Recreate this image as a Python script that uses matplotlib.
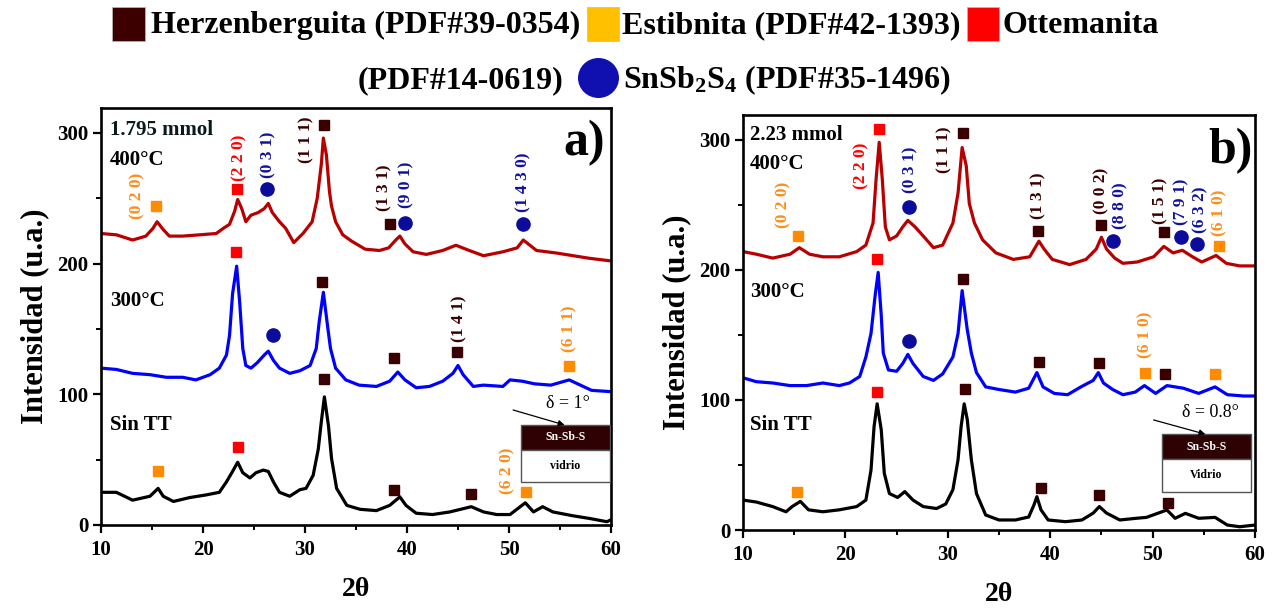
import matplotlib
matplotlib.use("Agg")
import matplotlib.pyplot as plt
from matplotlib.patches import Rectangle, Ellipse
from matplotlib.ticker import MultipleLocator

plt.rcParams['font.family'] = ['Liberation Serif', 'DejaVu Serif']
plt.rcParams['font.weight'] = 'bold'
plt.rcParams['mathtext.fontset'] = 'custom'
plt.rcParams['mathtext.rm'] = 'Liberation Serif:bold'
plt.rcParams['mathtext.bf'] = 'Liberation Serif:bold'
plt.rcParams['mathtext.it'] = 'Liberation Serif:bold'
plt.rcParams['mathtext.default'] = 'rm'

# ---------------- diffractograms, panel a (1.795 mmol) ----------------
a400_tt = [10.0, 11.5, 13.1, 14.4, 15.1, 15.5, 16.1, 16.7, 18.0, 19.7, 21.3, 22.0, 22.6, 23.1, 23.4,
           23.8, 24.2, 24.7, 25.4, 26.0, 26.4, 26.8, 27.5, 28.1, 28.9, 29.8, 30.7, 31.2, 31.6, 31.8,
           32.1, 32.4, 32.6, 33.0, 33.7, 34.6, 35.9, 37.3, 38.2, 38.9, 39.3, 39.8, 40.6, 41.9, 43.5,
           44.8, 46.1, 47.5, 49.4, 50.8, 51.4, 52.7, 54.7, 56.3, 57.9, 60.0]
a400_int = [223, 222, 218, 221, 227, 232, 226, 221, 221, 222, 223, 227, 230, 240, 249,
            242, 232, 237, 239, 242, 246, 239, 232, 227, 216, 223, 232, 250, 276, 296,
            283, 255, 244, 232, 222, 217, 211, 210, 212, 218, 221, 215, 209, 207, 210,
            214, 210, 206, 209, 212, 218, 210, 208, 206, 204, 202]

a300_tt = [10.0, 11.5, 13.1, 14.8, 16.4, 18.0, 19.3, 20.7, 21.6, 22.3, 22.6, 22.9, 23.3, 23.6, 23.9,
           24.2, 24.7, 25.3, 26.0, 26.4, 26.9, 27.5, 28.5, 29.5, 30.5, 31.1, 31.4, 31.8, 32.2, 32.5,
           33.0, 34.0, 35.3, 37.0, 38.3, 39.1, 39.8, 40.9, 42.2, 43.5, 44.5, 45.0, 45.5, 46.5, 47.5,
           49.4, 50.1, 51.3, 52.5, 54.1, 55.9, 58.1, 60.0]
a300_int = [120, 119, 116, 115, 113, 113, 111, 115, 120, 130, 145, 177, 198, 170, 135,
            122, 120, 124, 130, 133, 126, 120, 116, 118, 122, 135, 156, 178, 153, 135,
            120, 111, 107, 106, 110, 117, 111, 105, 106, 110, 116, 122, 115, 106, 107,
            106, 111, 110, 108, 107, 111, 103, 102]

a0_tt = [10.0, 11.5, 13.1, 14.8, 15.6, 16.1, 17.1, 18.7, 20.3, 21.6, 22.3, 22.9, 23.4, 23.9, 24.6,
         25.2, 25.9, 26.4, 26.9, 27.5, 28.5, 29.5, 30.1, 30.8, 31.3, 31.6, 31.9, 32.3, 32.6, 33.1,
         34.1, 35.4, 37.0, 38.3, 39.3, 39.9, 40.9, 42.5, 44.2, 46.3, 47.5, 48.8, 50.1, 51.6, 52.4,
         53.3, 54.3, 56.3, 57.9, 59.6, 60.0]
a0_int = [25, 25, 19, 22, 28, 22, 18, 21, 23, 25, 33, 41, 48, 40, 36,
          40, 42, 41, 33, 25, 22, 27, 28, 38, 58, 79, 98, 76, 51, 28,
          15, 12, 11, 15, 21.5, 15, 9, 8, 10, 14, 10, 8, 8, 17, 10,
          14, 10, 7, 5, 2.5, 4]

# ---------------- diffractograms, panel b (2.23 mmol) ----------------
b400_tt = [10.0, 11.3, 12.9, 14.6, 15.5, 16.5, 17.8, 19.4, 21.1, 22.0, 22.7, 23.0, 23.3, 23.6, 23.9,
           24.3, 25.0, 25.6, 26.1, 26.8, 27.6, 28.6, 29.5, 30.5, 31.0, 31.4, 31.8, 32.1, 32.6, 33.4,
           34.7, 36.4, 38.0, 38.6, 38.9, 39.4, 40.2, 41.9, 43.5, 44.5, 45.0, 45.5, 46.3, 47.1, 48.5,
           50.1, 51.1, 52.0, 52.9, 53.9, 54.8, 56.2, 57.2, 58.5, 60.0]
b400_int = [214, 212, 209, 212, 217, 212, 210, 210, 214, 219, 236, 270, 298, 270, 233,
            223, 226, 233, 238, 233, 226, 217, 219, 236, 259, 294, 280, 251, 236, 223,
            213, 208, 210, 218, 222, 216, 208, 204, 208, 216, 225, 216, 209, 205, 206,
            210, 218, 213, 215, 210, 206, 211, 205, 203, 203]

b300_tt = [10.0, 11.3, 12.9, 14.6, 16.2, 17.8, 19.4, 20.4, 21.4, 22.0, 22.5, 22.9, 23.2, 23.5, 23.7,
           24.2, 25.0, 25.6, 26.1, 26.6, 27.6, 28.6, 29.5, 30.5, 31.0, 31.4, 31.9, 32.3, 32.8, 33.7,
           35.0, 36.6, 37.9, 38.7, 39.3, 40.4, 41.7, 43.0, 44.2, 44.7, 45.2, 46.1, 47.1, 48.3, 49.2,
           50.3, 51.4, 53.0, 54.5, 56.1, 57.3, 58.9, 60.0]
b300_int = [117, 114, 113, 111, 111, 113, 111, 113, 118, 133, 151, 180, 198, 165, 136,
            123, 122, 128, 135, 128, 118, 115, 120, 133, 151, 184, 154, 136, 121, 110,
            108, 106, 109, 121, 110, 105, 104, 110, 115, 121, 113, 108, 104, 106, 111,
            105, 111, 109, 105, 110, 104, 103, 103]

b0_tt = [10.0, 11.3, 12.9, 14.2, 14.8, 15.6, 16.4, 17.8, 19.4, 21.1, 22.0, 22.5, 22.8, 23.1, 23.5,
         23.8, 24.3, 25.1, 25.8, 26.6, 27.6, 28.9, 29.8, 30.5, 31.0, 31.3, 31.6, 31.9, 32.3, 32.8,
         33.7, 35.0, 36.6, 37.9, 38.4, 38.7, 39.1, 39.8, 41.5, 43.1, 44.2, 44.8, 45.5, 46.8, 48.4,
         49.4, 51.4, 52.2, 53.2, 54.5, 56.1, 57.3, 58.5, 60.0]
b0_int = [23, 21.5, 18, 14, 18, 22, 15.5, 14, 15.5, 18, 23, 46, 79.5, 97, 77,
          43.5, 28, 25, 29.5, 23, 18, 16.5, 20, 31, 54, 79.5, 97, 85, 54, 28,
          11.5, 7.7, 7.7, 10, 19, 25.6, 15.5, 7.7, 6.4, 7.7, 13, 18, 13, 7.7, 9,
          9.7, 15.4, 9, 12.8, 9, 9.7, 3.8, 2.5, 3.8]

# ---------------- phase markers: (phase, 2theta, intensity) ----------------
# H = Herzenberguita, E = Estibnita, O = Ottemanita, S = SnSb2S4
a_marks = [('E', 15.4, 244), ('O', 23.3, 257), ('S', 26.3, 257), ('H', 31.9, 306),
           ('H', 38.3, 230), ('S', 39.8, 231), ('S', 51.4, 230),
           ('O', 23.2, 209), ('H', 31.7, 186), ('S', 26.9, 145), ('H', 38.7, 128),
           ('H', 44.9, 132), ('E', 55.9, 122),
           ('E', 15.6, 41), ('O', 23.4, 60), ('H', 31.9, 112), ('H', 38.7, 27),
           ('H', 46.3, 24), ('E', 51.7, 25)]
b_marks = [('E', 15.4, 226), ('O', 23.3, 308), ('S', 26.2, 248), ('H', 31.5, 305),
           ('H', 38.8, 230), ('H', 45.0, 234.5), ('S', 46.1, 222), ('H', 51.1, 229),
           ('S', 52.8, 225), ('S', 54.3, 220), ('E', 56.5, 218),
           ('O', 23.1, 208), ('H', 31.5, 193), ('S', 26.2, 145), ('H', 38.9, 129),
           ('H', 44.8, 128), ('E', 49.3, 121), ('H', 51.2, 120), ('E', 56.1, 120),
           ('E', 15.3, 29.5), ('O', 23.1, 106), ('H', 31.7, 108), ('H', 39.1, 32),
           ('H', 44.8, 27), ('H', 51.5, 21)]

# Miller indices: (text, phase, 2theta, intensity)
a_hkl = [('(0 2 0)', 'E', 13.6, 252), ('(2 2 0)', 'O', 23.55, 281), ('(0 3 1)', 'S', 26.4, 283),
         ('(1 1 1)', 'H', 30.1, 295), ('(1 3 1)', 'H', 37.8, 258), ('(9 0 1)', 'S', 39.9, 260),
         ('(1 4 3 0)', 'S', 51.4, 262), ('(1 4 1)', 'H', 45.1, 158), ('(6 1 1)', 'E', 55.9, 150),
         ('(6 2 0)', 'E', 49.8, 41.5)]
b_hkl = [('(0 2 0)', 'E', 13.9, 250), ('(2 2 0)', 'O', 21.55, 280), ('(0 3 1)', 'S', 26.3, 277),
         ('(1 1 1)', 'H', 29.7, 292.5), ('(1 3 1)', 'H', 38.8, 257), ('(0 0 2)', 'H', 45.0, 260.5),
         ('(8 8 0)', 'S', 46.9, 249), ('(1 5 1)', 'H', 50.8, 253), ('(7 9 1)', 'S', 52.8, 252),
         ('(6 3 2)', 'S', 54.7, 246), ('(6 1 0)', 'E', 56.5, 243.6), ('(6 1 0)', 'E', 49.3, 150)]

phase_names = ['Herzenberguita (PDF#39-0354)', 'Estibnita (PDF#42-1393)',
               'Ottemanita', '(PDF#14-0619)', r'SnSb$_2$S$_4$ (PDF#35-1496)']

MARK_COLOR = {'H': '#3a0000', 'E': '#ff8c00', 'O': '#ff0000', 'S': '#0c0c9c'}
TEXT_COLOR = {'H': '#3a0000', 'E': '#ff8c1a', 'O': '#ff0000', 'S': '#12129a'}
MARK_SHAPE = {'H': ('s', 6.5), 'E': ('s', 6.5), 'O': ('s', 6.5), 'S': ('o', 9.5)}

W, H = 1277, 609
fig = plt.figure(figsize=(W / 100, H / 100), dpi=100)
axA = fig.add_axes([101 / W, 1 - 525 / H, 510 / W, 417 / H])
axB = fig.add_axes([743 / W, 1 - 530 / H, 512 / W, 415 / H])


def style_axes(ax):
    ax.set_xlim(10, 60)
    ax.set_ylim(0, 319)
    ax.xaxis.set_major_locator(MultipleLocator(10))
    ax.xaxis.set_minor_locator(MultipleLocator(5))
    ax.yaxis.set_major_locator(MultipleLocator(100))
    ax.yaxis.set_minor_locator(MultipleLocator(50))
    for s in ax.spines.values():
        s.set_linewidth(1.9)
    ax.tick_params(which='major', direction='out', length=6, width=1.6,
                   labelsize=15, top=False, right=False)
    ax.tick_params(which='minor', direction='out', length=3.5, width=1.4,
                   top=False, right=False)
    ax.tick_params(axis='x', which='major', pad=5)
    ax.tick_params(axis='y', which='major', pad=3)
    for lab in ax.get_xticklabels() + ax.get_yticklabels():
        lab.set_fontweight('bold')
    ax.set_xlabel('2θ', fontsize=20, fontweight='bold', labelpad=12)
    ax.set_ylabel('Intensidad (u.a.)', fontsize=22, fontweight='bold', labelpad=6)


def draw_panel(ax, curves, marks, hkl):
    for tt, inten, col in curves:
        ax.plot(tt, inten, color=col, lw=2.3, solid_joinstyle='round', zorder=2)
    for ph, x, y in marks:
        m, ms = MARK_SHAPE[ph]
        ax.plot([x], [y], ls='none', marker=m, ms=ms, color=MARK_COLOR[ph],
                mec=MARK_COLOR[ph], zorder=4)
    for txt, ph, x, y in hkl:
        ax.text(x, y, txt, rotation=90, ha='center', va='center', fontsize=12.5,
                fontweight='bold', color=TEXT_COLOR[ph], zorder=5)


def draw_film(ax, x0, x1, y_top, y_mid, y_bot, film_txt, sub_txt,
              delta_txt, delta_xy, arrow_from):
    ax.add_patch(Rectangle((x0, y_mid), x1 - x0, y_top - y_mid, fc='#2e0202',
                           ec='#555555', lw=1.0, zorder=3))
    ax.add_patch(Rectangle((x0, y_bot), x1 - x0, y_mid - y_bot, fc='white',
                           ec='#555555', lw=1.0, zorder=3))
    xc = 0.5 * (x0 + x1)
    ax.text(xc, 0.5 * (y_top + y_mid), film_txt, color='white', fontsize=8.5,
            fontweight='bold', ha='center', va='center', zorder=4)
    ax.text(xc, 0.5 * (y_mid + y_bot), sub_txt, color='black', fontsize=8.5,
            fontweight='bold', ha='center', va='center', zorder=4)
    ax.text(delta_xy[0], delta_xy[1], delta_txt, fontsize=13, fontweight='normal',
            ha='center', va='center', zorder=4)
    ax.annotate('', xy=(xc - 0.1, y_top), xytext=arrow_from,
                arrowprops=dict(arrowstyle='-|>', lw=0.9, color='black',
                                mutation_scale=9, shrinkA=0, shrinkB=0), zorder=4)


for ax in (axA, axB):
    style_axes(ax)

draw_panel(axA, [(a400_tt, a400_int, '#b80000'), (a300_tt, a300_int, '#0000ff'),
                 (a0_tt, a0_int, '#000000')], a_marks, a_hkl)
draw_panel(axB, [(b400_tt, b400_int, '#b80000'), (b300_tt, b300_int, '#0000ff'),
                 (b0_tt, b0_int, '#000000')], b_marks, b_hkl)

tkw = dict(fontsize=15, fontweight='bold', ha='left', va='center', zorder=5)
axA.text(10.9, 302, '1.795 mmol', color='#0a1a1a', **tkw)
axA.text(10.9, 279, '400°C', **tkw)
axA.text(10.9, 171, '300°C', **tkw)
axA.text(10.9, 76.5, 'Sin TT', **tkw)
axA.text(57.4, 283, 'a)', fontsize=36, fontweight='bold', ha='center', va='baseline')

axB.text(10.65, 304, '2.23 mmol', **tkw)
axB.text(10.65, 281, '400°C', **tkw)
axB.text(10.65, 183, '300°C', **tkw)
axB.text(10.65, 81, 'Sin TT', **tkw)
axB.text(57.6, 282, 'b)', fontsize=36, fontweight='bold', ha='center', va='baseline')

draw_film(axA, 51.2, 59.9, 76.5, 57.4, 33.1, 'Sn-Sb-S', 'vidrio',
          'δ = 1°', (55.8, 93), (50.4, 88))
draw_film(axB, 50.95, 59.58, 73.6, 54.4, 29.5, 'Sn-Sb-S', 'Vidrio',
          'δ = 0.8°', (55.6, 90), (50.1, 84.6))

# ---------------- legend across the top ----------------
def fx(px):
    return px / W


def fy(py):
    return 1 - py / H


def square(px0, px1, py0, py1, col):
    fig.patches.append(Rectangle((fx(px0), fy(py1)), fx(px1 - px0), (py1 - py0) / H,
                                 transform=fig.transFigure, fc=col, ec='#bbbbbb', lw=0.5))


square(112, 145, 7, 41, '#3c0000')
square(587, 619, 7, 41, '#ffc000')
square(967, 999, 7, 41, '#ff0000')
fig.patches.append(Ellipse((fx(598.5), fy(78)), 41 / W, 40 / H, transform=fig.transFigure,
                           fc='#1010b0', ec='none'))

lkw = dict(fontsize=23, fontweight='bold', ha='left', va='baseline')
fig.text(fx(151), fy(33), phase_names[0], **lkw)
fig.text(fx(622), fy(33), phase_names[1], **lkw)
fig.text(fx(1003), fy(33), phase_names[2], **lkw)
fig.text(fx(358), fy(88), phase_names[3], **lkw)
fig.text(fx(623), fy(88), phase_names[4], **lkw)

fig.savefig('out.png', dpi=100)
